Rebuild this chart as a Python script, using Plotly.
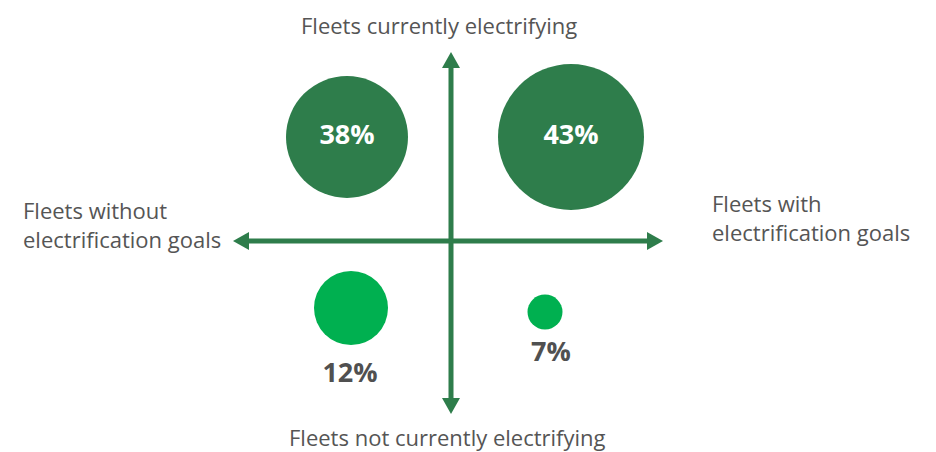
import plotly.graph_objects as go

# ---- data ----
quadrants = ["Electrifying, no goals", "Electrifying, with goals",
             "Not electrifying, no goals", "Not electrifying, with goals"]
shares = [38, 43, 12, 7]
share_labels = [f"{v}%" for v in shares]

axis_top = "Fleets currently electrifying"
axis_bottom = "Fleets not currently electrifying"
axis_left = "Fleets without<br>electrification goals"
axis_right = "Fleets with<br>electrification goals"

# ---- styles / positions (pixel-based offsets from the axis cross) ----
W, H = 936, 452
OFF = 8                                 # page body margin
CX, CY = 451 - OFF, 241 - OFF           # cross position in figure pixels
pos_x = [-104, 120, -100, 94]
pos_y = [104, 104, -67, -71]
diam_px = [122, 146, 74, 35]
DARK = "#2E7D4B"
LIGHT = "#00B050"
colors = [DARK, DARK, LIGHT, LIGHT]
TXT = "#555555"
FONT = "Open Sans"

def px(x):  # reference page x -> data x
    return x - OFF - CX
def py(y):  # reference page y -> data y
    return CY - (y - OFF)

fig = go.Figure()

shapes = []
lw = 5
hw, hl = 9, 16
top_tip, bot_tip = py(52), py(414)
right_tip, left_tip = px(663), px(233)
shapes.append(dict(type="line", x0=0, x1=0, y0=bot_tip + 10, y1=top_tip - 10,
                   line=dict(color=DARK, width=lw), layer="below"))
shapes.append(dict(type="line", x0=left_tip + 10, x1=right_tip - 10, y0=0, y1=0,
                   line=dict(color=DARK, width=lw), layer="below"))
def tri(pts):
    return "M " + " L ".join(f"{x},{y}" for x, y in pts) + " Z"
shapes += [
    dict(type="path", path=tri([(0, top_tip), (-hw, top_tip - hl), (hw, top_tip - hl)]),
         fillcolor=DARK, line=dict(width=0)),
    dict(type="path", path=tri([(0, bot_tip), (-hw, bot_tip + hl), (hw, bot_tip + hl)]),
         fillcolor=DARK, line=dict(width=0)),
    dict(type="path", path=tri([(right_tip, 0), (right_tip - hl, hw), (right_tip - hl, -hw)]),
         fillcolor=DARK, line=dict(width=0)),
    dict(type="path", path=tri([(left_tip, 0), (left_tip + hl, hw), (left_tip + hl, -hw)]),
         fillcolor=DARK, line=dict(width=0)),
]

fig.add_trace(go.Scatter(
    x=pos_x, y=pos_y, mode="markers", hovertext=quadrants,
    marker=dict(size=diam_px, color=colors, line=dict(width=0), opacity=1),
    showlegend=False))

# labels inside big circles
fig.add_trace(go.Scatter(
    x=pos_x[:2], y=pos_y[:2], mode="text", text=share_labels[:2],
    textfont=dict(family=FONT, size=27, color="white", weight="bold"),
    showlegend=False))
# labels below small circles
fig.add_trace(go.Scatter(
    x=[px(350), px(551)], y=[py(375), py(354)], mode="text", text=share_labels[2:],
    textfont=dict(family=FONT, size=27, color="#505050", weight="bold"),
    showlegend=False))

annots = [
    dict(x=px(439), y=py(8), text=axis_top, xanchor="center", yanchor="top"),
    dict(x=px(447), y=py(437), text=axis_bottom, xanchor="center", yanchor="middle"),
    dict(x=px(21), y=py(224), text=axis_left, xanchor="left", yanchor="middle", align="left"),
    dict(x=px(710), y=py(217), text=axis_right, xanchor="left", yanchor="middle", align="left"),
]
for a in annots:
    a.update(showarrow=False, font=dict(family=FONT, size=22, color=TXT))

fig.update_layout(
    width=W, height=H, margin=dict(l=0, r=0, t=0, b=0),
    paper_bgcolor="white", plot_bgcolor="white",
    xaxis=dict(range=[-CX, W - CX], visible=False, fixedrange=True),
    yaxis=dict(range=[CY - H, CY], visible=False, fixedrange=True),
    shapes=shapes, annotations=annots,
)
fig.write_html("out.html")
